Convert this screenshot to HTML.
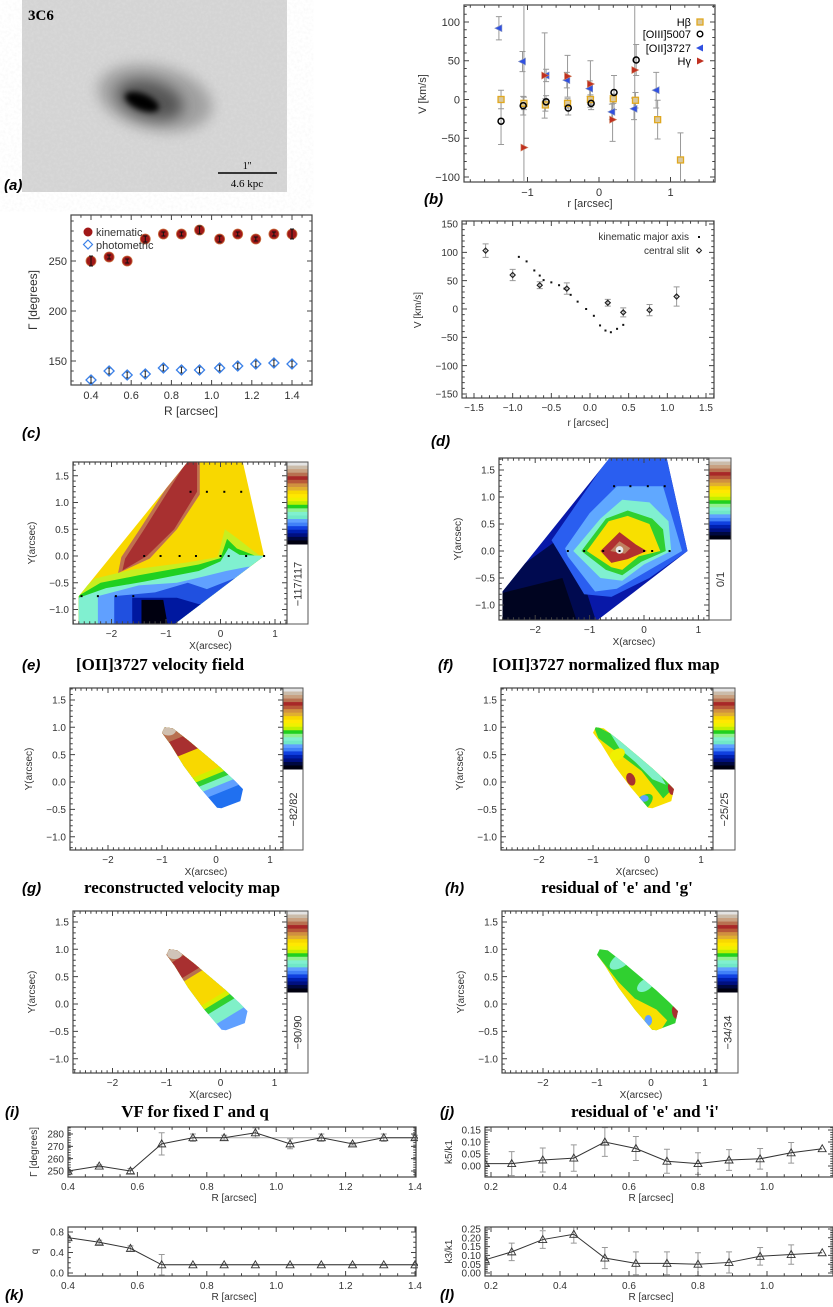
<!DOCTYPE html>
<html><head><meta charset="utf-8"><title>3C6 kinematics</title>
<style>
html,body{margin:0;padding:0;background:#fff;}
svg{display:block;font-family:"Liberation Sans",sans-serif;}
</style></head>
<body>
<svg id="fig" width="833" height="1307" viewBox="0 0 833 1307" xmlns="http://www.w3.org/2000/svg">
<defs>
<filter id="blur2" x="-50%" y="-50%" width="200%" height="200%"><feGaussianBlur stdDeviation="3"/></filter>
<filter id="blur6" x="-50%" y="-50%" width="200%" height="200%"><feGaussianBlur stdDeviation="7"/></filter>
<filter id="noise"><feTurbulence type="fractalNoise" baseFrequency="0.35" numOctaves="2" seed="3"/><feColorMatrix type="matrix" values="0 0 0 0 0.8  0 0 0 0 0.8  0 0 0 0 0.8  0 0 0 -0.9 0.55"/></filter>
</defs>
<g id="panel-a">
<rect x="22" y="0" width="265" height="192" fill="#d4d4d4"/>
<rect x="22" y="0" width="265" height="192" filter="url(#noise)" opacity="0.6"/>
<ellipse cx="155" cy="98" rx="58" ry="32" fill="#a0a0a0" filter="url(#blur6)" transform="rotate(12 155 98)"/>
<ellipse cx="150" cy="100" rx="34" ry="19" fill="#555" filter="url(#blur6)" transform="rotate(15 150 100)"/>
<ellipse cx="142" cy="102" rx="18" ry="8" fill="#000" filter="url(#blur2)" transform="rotate(22 142 102)"/>
<text x="28" y="20" font-family="Liberation Serif,serif" font-weight="bold" font-size="15">3C6</text>
<line x1="218" y1="173" x2="277" y2="173" stroke="#000" stroke-width="1.5"/>
<text x="247" y="169" font-family="Liberation Serif,serif" font-size="10" text-anchor="middle">1''</text>
<text x="247" y="187" font-family="Liberation Serif,serif" font-size="11" text-anchor="middle">4.6 kpc</text>
<text x="4" y="190" font-style="italic" font-weight="bold" font-size="15">(a)</text>
</g>
</svg>
<script>
// ---------- data ----------
// panel b
const bHbR=[-1.37,-1.05,-0.75,-0.44,-0.12,0.2,0.51,0.82,1.14];
const bHbV=[0,-5,-7,-5,0,1,-1,-26,-78];
const bHbE=[12,8,8,6,6,6,10,25,35];
const bO3R=[-1.37,-1.06,-0.74,-0.43,-0.11,0.21,0.52];
const bO3V=[-28,-8,-3,-11,-5,9,51];
const bO3E=[30,12,8,9,8,22,20];
const bO2R=[-1.4,-1.07,-0.74,-0.45,-0.13,0.18,0.49,0.8];
const bO2V=[92,49,31,25,14,-16,-12,12];
const bO2E=[15,13,8,10,10,10,14,23];
const bHgR=[-1.05,-0.76,-0.44,-0.12,0.19,0.5];
const bHgV=[-62,31,30,20,-26,38];
const bHgE=[200,55,27,30,28,200];
// panel c
const cR=[0.40,0.49,0.58,0.67,0.76,0.85,0.94,1.04,1.13,1.22,1.31,1.40];
const cKin=[250,254,250,272,277,277,281,272,277,272,277,277];
const cKinE=[5,2,2,3,2,2,4,3,2,2,2,5];
const cPho=[131,140,136,137,143,141,141,143,145,147,148,147];
const cPhoE=[3,3,3,3,3,3,3,3,3,3,3,3];
// panel d
const dSlitR=[-1.35,-1.0,-0.65,-0.3,0.23,0.43,0.77,1.12];
const dSlitV=[103,60,42,36,11,-6,-2,22];
const dSlitE=[12,10,6,10,6,8,10,17];
const dKinR=[-0.92,-0.82,-0.72,-0.65,-0.6,-0.5,-0.4,-0.33,-0.25,-0.16,-0.05,0.05,0.13,0.2,0.27,0.35,0.43];
const dKinV=[92,84,68,59,51,47,42,36,25,13,0,-12,-29,-38,-41,-35,-28];
// panels i,k (kinemetry Gamma, q)
const ikR=[0.40,0.49,0.58,0.67,0.76,0.85,0.94,1.04,1.13,1.22,1.31,1.40];
const iGam=[250,254,250,272,277,277,281,272,277,272,277,277];
const iGamE=[1,1,2,9,3,2,4,4,3,1,3,2];
const kQ=[0.69,0.6,0.48,0.16,0.16,0.16,0.16,0.16,0.16,0.16,0.16,0.16];
const kQE=[0.03,0.04,0.05,0.2,0.01,0.01,0.01,0.01,0.01,0.01,0.01,0.01];
// panels j,l
const jlR=[0.183,0.26,0.35,0.44,0.53,0.62,0.71,0.80,0.89,0.98,1.07,1.16];
const jK5=[0.01,0.01,0.025,0.033,0.10,0.073,0.02,0.01,0.025,0.03,0.055,0.072];
const jK5E=[0,0.05,0.05,0.055,0.06,0.05,0.05,0.045,0.043,0.043,0.043,0];
const lK3=[0.075,0.12,0.19,0.22,0.085,0.055,0.055,0.05,0.06,0.095,0.105,0.115];
const lK3E=[0,0.05,0.05,0.05,0.06,0.065,0.065,0.065,0.06,0.05,0.055,0];
// colour table (top to bottom of colorbars)
const cbarColors=['#e4e4e4','#cbbcaa','#c8a080','#b87050','#a82828','#b85838','#d09040','#e0b030','#f8d800','#ffe800','#f0f000','#c0f000','#20d020','#90f090','#80f0d0','#70e8c8','#60a0ff','#4080f8','#1040e0','#0020b0','#001080','#000840','#000010'];

// ---------- helpers ----------
const NS='http://www.w3.org/2000/svg';
const svg=document.getElementById('fig');
function mk(tag,at,par){const e=document.createElementNS(NS,tag);for(const k in at)e.setAttribute(k,at[k]);(par||svg).appendChild(e);return e;}
function txt(s,x,y,at,par){const e=mk('text',Object.assign({x:x,y:y},at||{}),par);e.textContent=s;return e;}
function lin(d0,p0,d1,p1){const k=(p1-p0)/(d1-d0);return v=>p0+(v-d0)*k;}
function grp(name){const g=mk('g',{});return g;}
const TC='#333';
function frame(g,B,xs,ys,xt,yt,xmin,ymin,xf,yf,fs,mlen){
  fs=fs||11;mlen=mlen||5;
  const r=mk('rect',{x:B.x0,y:B.y0,width:B.x1-B.x0,height:B.y1-B.y0,fill:'none',stroke:'#444','stroke-width':1.2},g);
  
  
  let d='';
  xmin.forEach(v=>{const p=xs(v);if(p<B.x0||p>B.x1)return;d+=`M${p} ${B.y1}v-${mlen*0.55}M${p} ${B.y0}v${mlen*0.55}`;});
  ymin.forEach(v=>{const p=ys(v);if(p<B.y0||p>B.y1)return;d+=`M${B.x0} ${p}h${mlen*0.55}M${B.x1} ${p}h-${mlen*0.55}`;});
  xt.forEach(v=>{const p=xs(v);if(p<B.x0-0.5||p>B.x1+0.5)return;d+=`M${p} ${B.y1}v-${mlen}M${p} ${B.y0}v${mlen}`;});
  yt.forEach(v=>{const p=ys(v);if(p<B.y0-0.5||p>B.y1+0.5)return;d+=`M${B.x0} ${p}h${mlen}M${B.x1} ${p}h-${mlen}`;});
  const t=mk('path',{d:d,stroke:'#444','stroke-width':1,fill:'none'},g);
  
  
  xt.forEach(v=>{const p=xs(v);if(p<B.x0-20||p>840)return;
    const e=txt(xf(v),p,B.y1+fs+3,{'font-size':fs,'text-anchor':'middle',fill:TC},g);
    
    });
  yt.forEach(v=>{const p=ys(v);
    const e=txt(yf(v),B.x0-4,p+fs*0.36,{'font-size':fs,'text-anchor':'end',fill:TC},g);
    
    });
}
function rng(a,b,s){const o=[];for(let v=a;v<=b+1e-9;v+=s)o.push(+v.toFixed(6));return o;}
function ylab(g,s,x,y,fs){const e=txt(s,x,y,{'font-size':fs||11,'text-anchor':'middle',fill:TC,transform:`rotate(-90 ${x} ${y})`},g);return e;}
function errbar(g,x,y1,y2,cap,col){const e=mk('path',{d:`M${x} ${y1}V${y2}M${x-cap} ${y1}h${2*cap}M${x-cap} ${y2}h${2*cap}`,stroke:col||'#999','stroke-width':1,fill:'none'},g);return e;}
function panelLabel(s,x,y){const e=txt(s,x,y,{'font-size':15,'font-style':'italic','font-weight':'bold'});return e;}
function caption(s,cx,y){const e=txt(s,cx,y,{'font-size':17,'font-weight':'bold','font-family':'Liberation Serif,serif','text-anchor':'middle'});return e;}

// ---------- panel b ----------
(function(){
const g=grp('panel-b-velocity-lines');
const B={x0:464,x1:715,y0:5,y1:182};
const xs=lin(0,599,1,670.5), ys=lin(0,99.5,100,22);
frame(g,B,xs,ys,[-1,0,1],[-100,-50,0,50,100],rng(-1.8,1.6,0.2),rng(-110,120,10),v=>String(v).replace('-','\u2212'),v=>String(v).replace('-','\u2212'));
const clip=mk('clipPath',{id:'clipb'},g);mk('rect',{x:B.x0,y:B.y0,width:B.x1-B.x0,height:B.y1-B.y0},clip);
const eg=mk('g',{'clip-path':'url(#clipb)'},g);


[[bHbR,bHbV,bHbE],[bO3R,bO3V,bO3E],[bO2R,bO2V,bO2E],[bHgR,bHgV,bHgE]].forEach(s=>{s[0].forEach((r,i)=>{const e=errbar(eg,xs(r),ys(s[1][i]+s[2][i]),ys(s[1][i]-s[2][i]),3,'#999');

});});
bHbR.forEach((r,i)=>{const e=mk('rect',{x:xs(r)-3,y:ys(bHbV[i])-3,width:6,height:6,fill:'#d8c8a0',stroke:'#e0a820','stroke-width':1.3},g);

});
bO3R.forEach((r,i)=>{const e=mk('circle',{cx:xs(r),cy:ys(bO3V[i]),r:3,fill:'none',stroke:'#000','stroke-width':1.5},g);

});
bO2R.forEach((r,i)=>{const x=xs(r),y=ys(bO2V[i]);const e=mk('path',{d:`M${x-4} ${y}L${x+3} ${y-3.5}L${x+3} ${y+3.5}Z`,fill:'#3050e0',stroke:'#8090c0','stroke-width':0.6},g);

});
bHgR.forEach((r,i)=>{const x=xs(r),y=ys(bHgV[i]);const e=mk('path',{d:`M${x+4} ${y}L${x-3} ${y-3.5}L${x-3} ${y+3.5}Z`,fill:'#c03020',stroke:'#d08060','stroke-width':0.6},g);

});
// legend
const lg=mk('g',{},g);


const L1=txt('H\u03B2',691,26,{'font-size':11,'text-anchor':'end'},lg);


const m1=mk('rect',{x:697,y:19,width:6,height:6,fill:'#d8c8a0',stroke:'#e0a820','stroke-width':1.3},lg);


const L2=txt('[OIII]5007',691,38,{'font-size':11,'text-anchor':'end'},lg);


const m2=mk('circle',{cx:700,cy:34,r:2.8,fill:'none',stroke:'#000','stroke-width':1.4},lg);


const L3=txt('[OII]3727',691,52,{'font-size':11,'text-anchor':'end'},lg);


const m3=mk('path',{d:'M696 48L703 44.5L703 51.5Z',fill:'#3050e0'},lg);


const L4=txt('H\u03B3',691,65,{'font-size':11,'text-anchor':'end'},lg);


const m4=mk('path',{d:'M704 61L697 57.5L697 64.5Z',fill:'#c03020'},lg);


const yl=ylab(g,'V [km/s]',426,94,11);


const xl=txt('r [arcsec]',590,207,{'font-size':11,'text-anchor':'middle',fill:TC},g);


const pl=panelLabel('(b)',424,204);


})();

// ---------- panel c ----------
(function(){
const g=grp('panel-c-position-angle');
const B={x0:71,x1:312,y0:215,y1:385};
const xs=lin(0.4,91,1.4,292), ys=lin(200,311,250,261);
frame(g,B,xs,ys,rng(0.4,1.4,0.2),[150,200,250],rng(0.3,1.5,0.05),rng(130,290,10),v=>v.toFixed(1),v=>String(v),11);
cR.forEach((r,i)=>{const e=errbar(g,xs(r),ys(cPho[i]+cPhoE[i]),ys(cPho[i]-cPhoE[i]),2.5,'#222');


const x=xs(r),y=ys(cPho[i]);const d=mk('path',{d:`M${x} ${y-5}L${x+5} ${y}L${x} ${y+5}L${x-5} ${y}Z`,fill:'none',stroke:'#3a80e8','stroke-width':1.3},g);

});
cR.forEach((r,i)=>{const c=mk('circle',{cx:xs(r),cy:ys(cKin[i]),r:5,fill:'#a01818',stroke:'#c87040','stroke-width':0.8},g);


const e=errbar(g,xs(r),ys(cKin[i]+cKinE[i]),ys(cKin[i]-cKinE[i]),2,'#111');

});
const m1=mk('circle',{cx:88,cy:232,r:4.5,fill:'#a01818'},g);


const t1=txt('kinematic',96,236,{'font-size':11,fill:TC},g);


const m2=mk('path',{d:'M88 240L92.5 244.5L88 249L83.5 244.5Z',fill:'none',stroke:'#3a80e8','stroke-width':1.2},g);


const t2=txt('photometric',96,249,{'font-size':11,fill:TC},g);


const yl=ylab(g,'\u0393 [degrees]',37,300,12);


const xl=txt('R [arcsec]',191,415,{'font-size':12,'text-anchor':'middle',fill:TC},g);


const pl=panelLabel('(c)',22,438);


})();

// ---------- panel d ----------
(function(){
const g=grp('panel-d-rotation-curve');
const B={x0:462,x1:714,y0:221,y1:398};
const xs=lin(0,590,1.5,706), ys=lin(0,309,150,224);
frame(g,B,xs,ys,[-1.5,-1,-0.5,0,0.5,1,1.5],[-150,-100,-50,0,50,100,150],rng(-1.6,1.6,0.1),rng(-150,150,10),v=>v.toFixed(1).replace('-','\u2212'),v=>String(v).replace('-','\u2212'),10);
dSlitR.forEach((r,i)=>{const e=errbar(g,xs(r),ys(dSlitV[i]+dSlitE[i]),ys(dSlitV[i]-dSlitE[i]),3,'#999');


const x=xs(r),y=ys(dSlitV[i]);const d=mk('path',{d:`M${x} ${y-2.5}L${x+2.5} ${y}L${x} ${y+2.5}L${x-2.5} ${y}Z`,fill:'none',stroke:'#222','stroke-width':1.2},g);

});
dKinR.forEach((r,i)=>{const c=mk('rect',{x:xs(r)-1,y:ys(dKinV[i])-1,width:2,height:2,fill:'#111'},g);

});
const t1=txt('kinematic major axis',689,240,{'font-size':10,'text-anchor':'end',fill:TC},g);


const m1=mk('rect',{x:698,y:236,width:2,height:2,fill:'#111'},g);


const t2=txt('central slit',689,254,{'font-size':10,'text-anchor':'end',fill:TC},g);


const m2=mk('path',{d:'M699 248L701.5 250.5L699 253L696.5 250.5Z',fill:'none',stroke:'#222'},g);


const yl=ylab(g,'V [km/s]',421,310,10);


const xl=txt('r [arcsec]',588,426,{'font-size':10,'text-anchor':'middle',fill:TC},g);


const pl=panelLabel('(d)',431,446);


})();

// ---------- map panels ----------
function mapPanel(name,B,X0,sx,Y0,sy,cbarRight,cbarBottom,cbarLabel,layers,outline,dots,letter,capText,capX,capY,letterX){
  const g=grp(name);
  const xs=v=>X0+v*sx, ys=v=>Y0-v*sy;
  const id='clip-'+name;
  const cp=mk('clipPath',{id:id},g);
  mk('polygon',{points:outline.map(p=>xs(p[0])+','+ys(p[1])).join(' ')},cp);
  const cb=mk('clipPath',{id:id+'b'},g);
  mk('rect',{x:B.x0,y:B.y0,width:B.x1-B.x0,height:B.y1-B.y0},cb);
  const outer=mk('g',{'clip-path':`url(#${id}b)`},g);
  const inner=mk('g',{'clip-path':`url(#${id})`},outer);
  
  
  layers.forEach(L=>{
    let e;
    if(L.e){e=mk('ellipse',{cx:xs(L.e[0]),cy:ys(L.e[1]),rx:L.e[2]*sx,ry:L.e[3]*sy,fill:L.c,transform:`rotate(${L.e[4]||0} ${xs(L.e[0])} ${ys(L.e[1])})`},inner);}
    else{e=mk('polygon',{points:L.p.map(p=>xs(p[0])+','+ys(p[1])).join(' '),fill:L.c},inner);}
    
    
  });
  (dots||[]).forEach(p=>{const d=mk('rect',{x:xs(p[0])-1,y:ys(p[1])-1,width:2,height:2,fill:'#000'},outer);
    
    });
  frame(g,B,xs,ys,[-2,-1,0,1],[-1,-0.5,0,0.5,1,1.5],rng(-2.7,1.3,0.1),rng(-1.3,1.8,0.1),v=>String(v).replace('-','\u2212'),v=>v.toFixed(1).replace('-','\u2212'),10,5);
  // colorbar
  const cbg=mk('g',{},g);
  
  
  const h=(cbarBottom-B.y0)/cbarColors.length;
  cbarColors.forEach((c,i)=>{const r=mk('rect',{x:B.x1,y:B.y0+i*h,width:cbarRight-B.x1,height:h+0.5,fill:c},cbg);
    
    });
  const fr=mk('rect',{x:B.x1,y:B.y0,width:cbarRight-B.x1,height:B.y1-B.y0,fill:'none',stroke:'#555','stroke-width':1},cbg);
  
  
  const cx=(B.x1+cbarRight)/2+4, cy=(cbarBottom+B.y1)/2;
  const cl=txt(cbarLabel,cx,cy,{'font-size':11,'text-anchor':'middle',fill:TC,transform:`rotate(-90 ${cx} ${cy})`},cbg);
  
  
  const yl=ylab(g,'Y(arcsec)',B.x0-38,(B.y0+B.y1)/2,10);
  
  
  const xl=txt('X(arcsec)',X0-10,B.y1+25,{'font-size':10,'text-anchor':'middle',fill:TC},g);
  
  
  const pl=panelLabel(letter,letterX,capY);
  
  
  const cp2=caption(capText,capX,capY);
  
  
}
const outerEF=[[-2.6,-1.3],[-2.6,-0.75],[-0.57,1.8],[0.4,1.8],[0.8,0.0],[-0.88,-1.3]];
// e
mapPanel('panel-e-oii-velocity',{x0:73,x1:287,y0:462,y1:624},220.5,54.5,556,53.5,308,544,'\u2212117/117',[
 {c:'#f8d800',p:[[-3,-2],[-3,2],[2,2],[2,-2]]},
 {c:'#c07050',p:[[-1.88,-0.32],[-1.82,-0.02],[-1.45,0.55],[-0.66,1.8],[-0.38,1.8],[-0.38,1.15],[-0.8,0.5],[-1.3,-0.05]]},
 {c:'#a83030',p:[[-1.8,-0.27],[-1.75,-0.05],[-1.4,0.5],[-0.6,1.8],[-0.43,1.8],[-0.43,1.2],[-0.85,0.5],[-1.35,0.0]]},
 {c:'#c8ee20',p:[[-2.6,-0.68],[-2.3,-0.42],[-1.6,-0.25],[-0.6,-0.12],[-0.05,-0.02],[0.08,0.5],[0.35,0.3],[0.7,0.02],[0.9,0],[0.9,-1.4],[-2.7,-1.4]]},
 {c:'#20d020',p:[[-2.6,-0.74],[-2.2,-0.5],[-1.5,-0.36],[-0.4,-0.16],[0.0,-0.04],[0.12,0.32],[0.3,0.14],[0.65,0.0],[0.9,-0.05],[0.9,-1.4],[-2.7,-1.4]]},
 {c:'#80f0d0',p:[[-2.6,-0.78],[-2.1,-0.6],[-1.4,-0.48],[-0.4,-0.28],[0.0,-0.1],[0.15,0.15],[0.35,0.02],[0.9,0.0],[0.9,-1.4],[-2.7,-1.4]]},
 {c:'#60a0ff',p:[[-2.25,-1.4],[-2.25,-0.75],[-1.5,-0.55],[-0.8,-0.5],[-0.3,-0.38],[0.1,-0.28],[0.5,-0.2],[0.9,-0.2],[0.9,-1.4]]},
 {c:'#2050e0',p:[[-1.95,-1.4],[-1.95,-0.75],[-1.2,-0.68],[-0.6,-0.5],[-0.25,-0.62],[0.3,-0.4],[0.9,-0.4],[0.9,-1.4]]},
 {c:'#0018a0',p:[[-1.62,-1.4],[-1.62,-0.78],[-0.8,-0.78],[-0.4,-0.9],[0.9,-0.9],[0.9,-1.4]]},
 {c:'#000010',p:[[-1.45,-1.4],[-1.45,-0.82],[-1.05,-0.82],[-0.95,-1.4]]}
],outerEF,[[-0.55,1.2],[-0.25,1.2],[0.07,1.2],[0.38,1.2],[-1.4,0],[-1.1,0],[-0.75,0],[-0.45,0],[0,0],[0.15,0],[0.47,0],[0.8,0],[-2.55,-0.75],[-2.25,-0.75],[-1.92,-0.75],[-1.6,-0.75]],'(e)','[OII]3727 velocity field',160,670,22);
// f
mapPanel('panel-f-oii-flux',{x0:499,x1:709,y0:458,y1:620},644,54.4,551,54,731,539,'0/1',[
 {c:'#0818a8',p:[[-3,-2],[-3,2],[2,2],[2,-2]]},
 {c:'#000a50',p:[[-2.7,-1.4],[-2.7,-0.6],[-1.6,0.2],[-1.2,-0.3],[-0.85,-1.4]]},
 {c:'#000420',p:[[-2.7,-1.4],[-2.7,-0.8],[-1.5,-0.5],[-1.2,-1.4]]},
 {c:'#2a5ef0',p:[[-1.7,0.2],[-0.6,1.8],[0.4,1.8],[0.8,0.0],[0.1,-0.5],[-0.6,-0.85],[-1.1,-0.8]]},
 {c:'#60a8ff',p:[[-1.45,0.05],[-1.0,0.7],[-0.5,1.2],[0.35,1.2],[0.7,0.0],[0.1,-0.35],[-0.5,-0.7],[-0.9,-0.75],[-1.4,-0.1]]},
 {c:'#80f0d0',p:[[-1.3,0.0],[-0.8,0.6],[-0.4,0.95],[0.1,0.9],[0.45,0.55],[0.5,0.0],[0.0,-0.25],[-0.4,-0.55],[-0.8,-0.5]]},
 {c:'#30d030',p:[[-1.15,0.0],[-0.7,0.6],[-0.3,0.75],[0.15,0.6],[0.35,0.4],[0.4,0.0],[-0.05,-0.2],[-0.4,-0.45],[-0.7,-0.35]]},
 {c:'#f8e000',p:[[-1.05,0.0],[-0.65,0.55],[-0.3,0.65],[0.1,0.5],[0.3,0.0],[-0.1,-0.1],[-0.4,-0.35],[-0.6,-0.3]]},
 {c:'#b03030',p:[[-0.8,0.0],[-0.45,0.35],[-0.15,0.12],[0.05,0.0],[-0.3,-0.15],[-0.6,-0.22]]},
 {c:'#c08060',p:[[-0.62,0.0],[-0.45,0.18],[-0.25,0.05],[-0.35,-0.05]]},
 {c:'#e8e8e8',e:[-0.45,0.02,0.07,0.07,0]}
],outerEF,[[-0.55,1.2],[-0.25,1.2],[0.07,1.2],[0.38,1.2],[-1.4,0],[-1.1,0],[-0.75,0],[-0.45,0],[0,0],[0.15,0],[0.47,0]],'(f)','[OII]3727 normalized flux map',606,670,438);
const outerG=[[-0.95,1.0],[-0.8,0.98],[-0.5,0.75],[-0.2,0.5],[0.1,0.25],[0.35,0.02],[0.5,-0.13],[0.45,-0.35],[0.1,-0.48],[0.02,-0.47],[-0.3,-0.1],[-0.6,0.3],[-0.85,0.7],[-1.0,0.9]];
function band(v0,v1,slope){return [[-3,v0-3*slope],[3,v0+3*slope],[3,v1+3*slope],[-3,v1-3*slope]];}
// g
mapPanel('panel-g-reconstructed-velocity',{x0:70,x1:283,y0:688,y1:850},216,54,782,54.7,303,769,'\u221282/82',[
 {c:'#2070f0',p:band(-3,3,0.4)},
 {c:'#60a0ff',p:band(-0.22,3,0.4)},
 {c:'#80f0c8',p:band(-0.08,3,0.4)},
 {c:'#30d030',p:band(0.04,3,0.4)},
 {c:'#d0f000',p:band(0.14,3,0.4)},
 {c:'#f8d800',p:band(0.25,3,0.4)},
 {c:'#a83030',p:band(0.75,3,0.4)},
 {c:'#b87050',p:band(1.08,3,0.4)},
 {c:'#d0c0b0',e:[-0.88,0.95,0.14,0.1,0]}
],outerG,null,'(g)','reconstructed velocity map',182,893,22);
// h
mapPanel('panel-h-residual-e-g',{x0:501,x1:713,y0:688,y1:850},647,54,782,54.7,735,769,'\u221225/25',[
 {c:'#f8e000',p:band(-3,3,0.4)},
 {c:'#30d030',p:[[-1,1.05],[-0.3,0.7],[0.2,0.2],[0.5,-0.1],[0.3,-0.3],[-0.1,0.2],[-0.5,0.5],[-0.9,0.8]]},
 {c:'#80f0c8',p:[[-0.75,1.0],[-0.3,0.7],[0.15,0.3],[0.35,-0.05],[0.1,0.05],[-0.2,0.35],[-0.5,0.6]]},
 {c:'#f0f000',e:[-0.55,0.5,0.15,0.1,-30]},
 {c:'#30d030',e:[-0.1,-0.4,0.25,0.12,-40]},
 {c:'#60a0ff',e:[-0.05,-0.3,0.08,0.06,0]},
 {c:'#a83030',e:[-0.3,0.05,0.08,0.12,-20]},
 {c:'#a83030',e:[0.45,-0.12,0.06,0.12,-10]},
 {c:'#f8e000',e:[-0.6,0.1,0.15,0.25,-30]}
],outerG,null,'(h)',"residual of 'e' and 'g'",617,893,445);
// i
mapPanel('panel-i-fixed-gamma-q',{x0:73,x1:287,y0:911,y1:1073},220.5,54,1004,54.7,308,992,'\u221290/90',[
 {c:'#60a0ff',p:band(-3,3,0.6)},
 {c:'#80f0c8',p:band(-0.32,3,0.6)},
 {c:'#30d030',p:band(-0.05,3,0.6)},
 {c:'#d8f000',p:band(0.08,3,0.6)},
 {c:'#f8d800',p:band(0.18,3,0.6)},
 {c:'#b87050',p:band(0.82,3,0.6)},
 {c:'#a83030',p:band(0.9,3,0.6)},
 {c:'#b87050',p:band(1.3,3,0.6)},
 {c:'#d0c4b8',e:[-0.85,0.92,0.14,0.1,0]}
],outerG,null,'(i)','VF for fixed \u0393 and q',195,1117,5);
// j
mapPanel('panel-j-residual-e-i',{x0:502,x1:717,y0:911,y1:1073},651,54,1004,54.7,738,992,'\u221234/34',[
 {c:'#30d030',p:band(-3,3,0.4)},
 {c:'#f8e000',p:[[-1,0.9],[-0.6,0.4],[-0.3,0.1],[0.1,-0.1],[0.3,-0.3],[0.1,-0.6],[-1.2,0.0]]},
 {c:'#80f0c8',e:[-0.55,0.8,0.25,0.12,-35]},
 {c:'#80f0c8',e:[-0.1,0.35,0.18,0.1,-35]},
 {c:'#60a0ff',e:[-0.05,-0.3,0.07,0.1,0]},
 {c:'#a83030',e:[0.45,-0.15,0.06,0.12,-10]}
],outerG,null,'(j)',"residual of 'e' and 'i'",645,1117,440);

// ---------- bottom line plots ----------
function linePanel(name,B,xs,ys,xt,yt,xmin,ymin,xf,yf,R,V,E,ytitle,ytx,hline){
  const g=grp(name);
  const cp=mk('clipPath',{id:'clip-'+name},g);mk('rect',{x:B.x0,y:B.y0,width:B.x1-B.x0+2,height:B.y1-B.y0},cp);
  const pg=mk('g',{'clip-path':`url(#clip-${name})`},g);
  if(hline){const h=mk('line',{x1:xs(hline[0]),x2:B.x1,y1:ys(hline[1]),y2:ys(hline[1]),stroke:'#aaa','stroke-width':1},pg);
    
    }
  R.forEach((r,i)=>{if(E[i]>0){const e=errbar(pg,xs(r),ys(V[i]+E[i]),ys(V[i]-E[i]),3,'#999');
    
    }});
  const ln=mk('polyline',{points:R.map((r,i)=>xs(r)+','+ys(V[i])).join(' '),fill:'none',stroke:'#333','stroke-width':1},pg);
  
  
  R.forEach((r,i)=>{const x=xs(r),y=ys(V[i]);const t=mk('path',{d:`M${x} ${y-4}L${x+4} ${y+3}L${x-4} ${y+3}Z`,fill:'none',stroke:'#333','stroke-width':0.9},pg);
    
    });
  frame(g,B,xs,ys,xt,yt,xmin,ymin,xf,yf,10,5);
  const yl=ylab(g,ytitle,ytx,(B.y0+B.y1)/2,10);
  
  
  const xl=txt('R [arcsec]',(B.x0+Math.min(B.x1,833))/2-8,B.y1+24,{'font-size':10,'text-anchor':'middle',fill:TC},g);
  
  
}
linePanel('panel-i-gamma-profile',{x0:68,x1:416,y0:1127,y1:1177},lin(0.4,68,1.4,415),lin(250,1171,280,1134),rng(0.4,1.4,0.2),[250,260,270,280],rng(0.4,1.4,0.05),rng(245,285,2),v=>v.toFixed(1),v=>String(v),ikR,iGam,iGamE,'\u0393 [degrees]',37,[0.76,277]);
linePanel('panel-k-q-profile',{x0:68,x1:416,y0:1227,y1:1276},lin(0.4,68,1.4,415),lin(0,1273,0.8,1232),rng(0.4,1.4,0.2),[0,0.4,0.8],rng(0.4,1.4,0.05),rng(0,0.9,0.1),v=>v.toFixed(1),v=>v.toFixed(1),ikR,kQ,kQE,'q',38,[0.67,0.16]);
linePanel('panel-j-k5-profile',{x0:485,x1:833,y0:1127,y1:1177},lin(0.2,491,1.0,767),lin(0,1166,0.15,1130),[0.2,0.4,0.6,0.8,1.0],[0,0.05,0.1,0.15],rng(0.2,1.2,0.05),rng(-0.04,0.16,0.01),v=>v.toFixed(1),v=>v.toFixed(2),jlR,jK5,jK5E,'k5/k1',452,null);
linePanel('panel-l-k3-profile',{x0:485,x1:833,y0:1227,y1:1276},lin(0.2,491,1.0,767),lin(0,1273,0.25,1229),[0.2,0.4,0.6,0.8,1.0],[0,0.05,0.1,0.15,0.2,0.25],rng(0.2,1.2,0.05),rng(0,0.27,0.01),v=>v.toFixed(1),v=>v.toFixed(2),jlR,lK3,lK3E,'k3/k1',452,null);
const pk=panelLabel('(k)',5,1300);


const plL=panelLabel('(l)',440,1300);


</script>
</body></html>
